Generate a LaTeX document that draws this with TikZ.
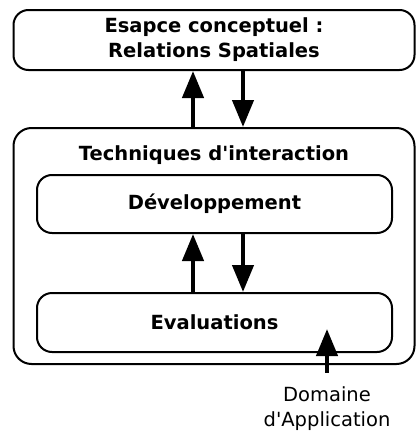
\documentclass[tikz,border=0pt]{standalone}
\usepackage{fontspec}
\setmainfont{DejaVu Sans}[Ligatures=TeXOff]
\usepackage{tikz}
\usetikzlibrary{arrows.meta,calc}
\tikzset{
  rbox/.style={draw=black,line width=2pt,rounded corners=#1,inner sep=0pt},
  rbox/.default=15pt,
  ttl/.style={font=\fontsize{19.5}{25}\selectfont\bfseries,align=center,inner sep=0pt},
  arr/.style={-{Triangle[length=27pt,width=21pt]},line width=4.3pt},
  lbl/.style={font=\fontsize{19.5}{25}\selectfont,align=center,inner sep=3pt},
}
\begin{document}
\begin{tikzpicture}[x=1pt,y=-1pt]
  \useasboundingbox (0,0) rectangle (416,434);
  % boxes
  \node[rbox,minimum width=401pt,minimum height=60pt] (esp) at (214,40) {};
  \node[ttl] at (esp.center) {Esapce conceptuel :\\Relations Spatiales};
  \node[rbox=18pt,minimum width=401pt,minimum height=236pt] (tech) at (214,246) {};
  \node[ttl] (techlbl) at (214,155) {Techniques d'interaction};
  \node[rbox,minimum width=355pt,minimum height=58pt] (dev) at (214.5,204) {};
  \node[ttl] at (dev.center) {Développement};
  \node[rbox,minimum width=355pt,minimum height=59pt] (eval) at (214.5,322.5) {};
  \node[ttl] at (eval.center) {Evaluations};
  \node[lbl] (dom) at (327,409) {Domaine\\d'Application};
  % arrows
  \coordinate (ul) at (193,0);
  \coordinate (dl) at (243,0);
  \coordinate (domtip) at (327,329);
  \draw[arr] (tech.north -| ul) -- (esp.south -| ul);
  \draw[arr] (esp.south -| dl) -- (tech.north -| dl);
  \draw[arr] (eval.north -| ul) -- (dev.south -| ul);
  \draw[arr] (dev.south -| dl) -- (eval.north -| dl);
  \draw[arr] ([yshift=11pt]dom.north) -- (domtip);
\end{tikzpicture}
\end{document}
